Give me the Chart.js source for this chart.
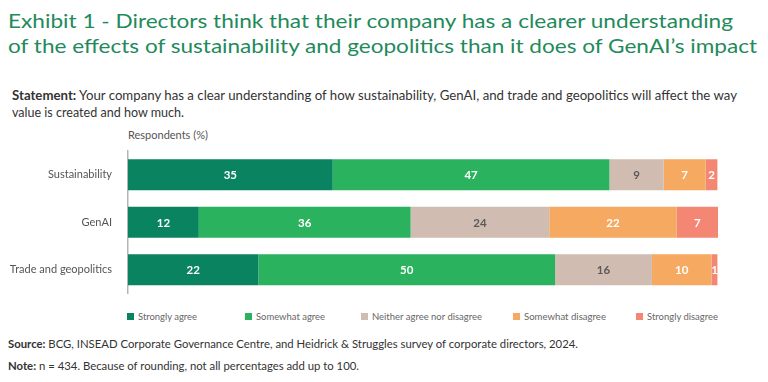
<!DOCTYPE html>
<html>
<head>
<meta charset="utf-8">
<script src="https://cdn.jsdelivr.net/npm/chart.js@4"></script>
<style>
  html, body { margin: 0; padding: 0; background: #fff; }
  body { width: 768px; height: 382px; position: relative; overflow: hidden; font-family: Lato, sans-serif; }
  .fit { display: inline-block; white-space: nowrap; transform-origin: 0 50%; }
  .title { position: absolute; left: 8px; top: 8px; font-size: 20px; line-height: 25px; color: #1f8a5c; }
  .statement { position: absolute; left: 12px; top: 87px; font-size: 13px; line-height: 17px; color: #333; }
  .resp { position: absolute; left: 128px; top: 128px; font-size: 11px; color: #555; }
  .chart-box { position: absolute; left: 0; top: 140px; width: 768px; height: 160px; }
  .legend { position: absolute; top: 310px; left: 0; width: 768px; height: 14px; font-size: 10px; line-height: 13px; color: #666; }
  .legend .item { position: absolute; top: 0; white-space: nowrap; }
  .legend i { position: absolute; left: 0; top: 3px; width: 7px; height: 7px; }
  .legend .item span { position: absolute; left: 11px; top: 0; }
  .foot { position: absolute; left: 8px; font-size: 12px; line-height: 14px; color: #333; }
</style>
</head>
<body>
<div class="title">
  <span class="fit" data-w="725">Exhibit 1 - Directors think that their company has a clearer understanding</span><br>
  <span class="fit" data-w="749">of the effects of sustainability and geopolitics than it does of GenAI’s impact</span>
</div>
<div class="statement">
  <span class="fit" data-w="725"><b>Statement:</b> Your company has a clear understanding of how sustainability, GenAI, and trade and geopolitics will affect the way</span><br>
  <span class="fit" data-w="172">value is created and how much.</span>
</div>
<div class="resp">Respondents (%)</div>
<div class="chart-box"><canvas id="barChart"></canvas></div>
<div class="legend" id="legend"></div>
<div class="foot" style="top:337px"><span class="fit" data-w="570"><b>Source:</b> BCG, INSEAD Corporate Governance Centre, and Heidrick &amp; Struggles survey of corporate directors, 2024.</span></div>
<div class="foot" style="top:359px"><span class="fit" data-w="351"><b>Note:</b> n = 434. Because of rounding, not all percentages add up to 100.</span></div>

<script>
// ===== Data (segment widths; labels show the rounded values) =====
const categories = ["Sustainability", "GenAI", "Trade and geopolitics"];
const seriesNames = ["Strongly agree", "Somewhat agree", "Neither agree nor disagree", "Somewhat disagree", "Strongly disagree"];
const stronglyAgree = [34.7, 12.0, 22.1];
const somewhatAgree = [46.9, 35.9, 50.3];
const neither = [9.2, 23.5, 16.4];
const somewhatDisagree = [7.1, 21.6, 10.1];
const stronglyDisagree = [2.0, 7.0, 1.0];

const colors = ["#0a8460", "#2bb25e", "#d1bcb1", "#f6a961", "#f38773"];
const labelColors = ["#fff", "#fff", "#5a5a5a", "#fff", "#fff"];
const legendLeft = [127, 245, 361, 513, 636];
const legendTextW = [59, 69, 110, 82, 71];

// ===== Segment labels =====
const segmentLabels = {
  id: "segmentLabels",
  afterDatasetsDraw(chart) {
    const { ctx, chartArea } = chart;
    ctx.save();
    ctx.beginPath();
    ctx.rect(chartArea.left, chartArea.top, chartArea.right - chartArea.left, chartArea.bottom - chartArea.top);
    ctx.clip();
    ctx.font = "bold 11.5px Lato, sans-serif";
    ctx.textAlign = "center";
    ctx.textBaseline = "middle";
    chart.data.datasets.forEach((ds, i) => {
      const meta = chart.getDatasetMeta(i);
      meta.data.forEach((bar, j) => {
        const x = (bar.x + bar.base) / 2;
        ctx.fillStyle = labelColors[i];
        ctx.fillText(String(Math.round(ds.data[j])), x, bar.y + 1);
      });
    });
    ctx.restore();
  },
};

function initBarChart() {
  const ctx = document.getElementById("barChart").getContext("2d");
  const values = [stronglyAgree, somewhatAgree, neither, somewhatDisagree, stronglyDisagree];
  new Chart(ctx, {
    type: "bar",
    data: {
      labels: categories,
      datasets: values.map((data, i) => ({
        label: seriesNames[i],
        data: data,
        backgroundColor: colors[i],
        borderWidth: 0,
        barPercentage: 0.65,
        categoryPercentage: 1,
      })),
    },
    options: {
      indexAxis: "y",
      responsive: true,
      maintainAspectRatio: false,
      animation: false,
      layout: { padding: { top: 11, bottom: 6.5, left: 0, right: 50 } },
      plugins: {
        legend: { display: false },
        tooltip: { enabled: false },
      },
      scales: {
        x: {
          stacked: true,
          min: 0,
          max: 100,
          display: false,
        },
        y: {
          stacked: true,
          grid: { display: false },
          border: { display: true, color: "#b5b5b5", width: 1.5 },
          ticks: { color: "#555", font: { family: "Lato, sans-serif", size: 11 }, padding: 8 },
          afterFit: (scale) => {
            scale.width = 128;
            scale.paddingTop = 0;
            scale.paddingBottom = 0;
          },
        },
      },
    },
    plugins: [segmentLabels],
  });
}

function buildLegend() {
  const box = document.getElementById("legend");
  seriesNames.forEach((name, i) => {
    const el = document.createElement("div");
    el.className = "item";
    el.style.left = legendLeft[i] + "px";
    el.innerHTML = '<i style="background:' + colors[i] + '"></i><span class="fit" data-w="' + legendTextW[i] + '">' + name + "</span>";
    box.appendChild(el);
  });
}

// squeeze text lines to the widths measured on the reference
function fitText() {
  document.querySelectorAll(".fit").forEach((el) => {
    const target = +el.dataset.w;
    const w = el.getBoundingClientRect().width;
    if (w > 0) el.style.transform = "scaleX(" + (target / w) + ")";
  });
}

buildLegend();
fitText();
initBarChart();
</script>
</body>
</html>
